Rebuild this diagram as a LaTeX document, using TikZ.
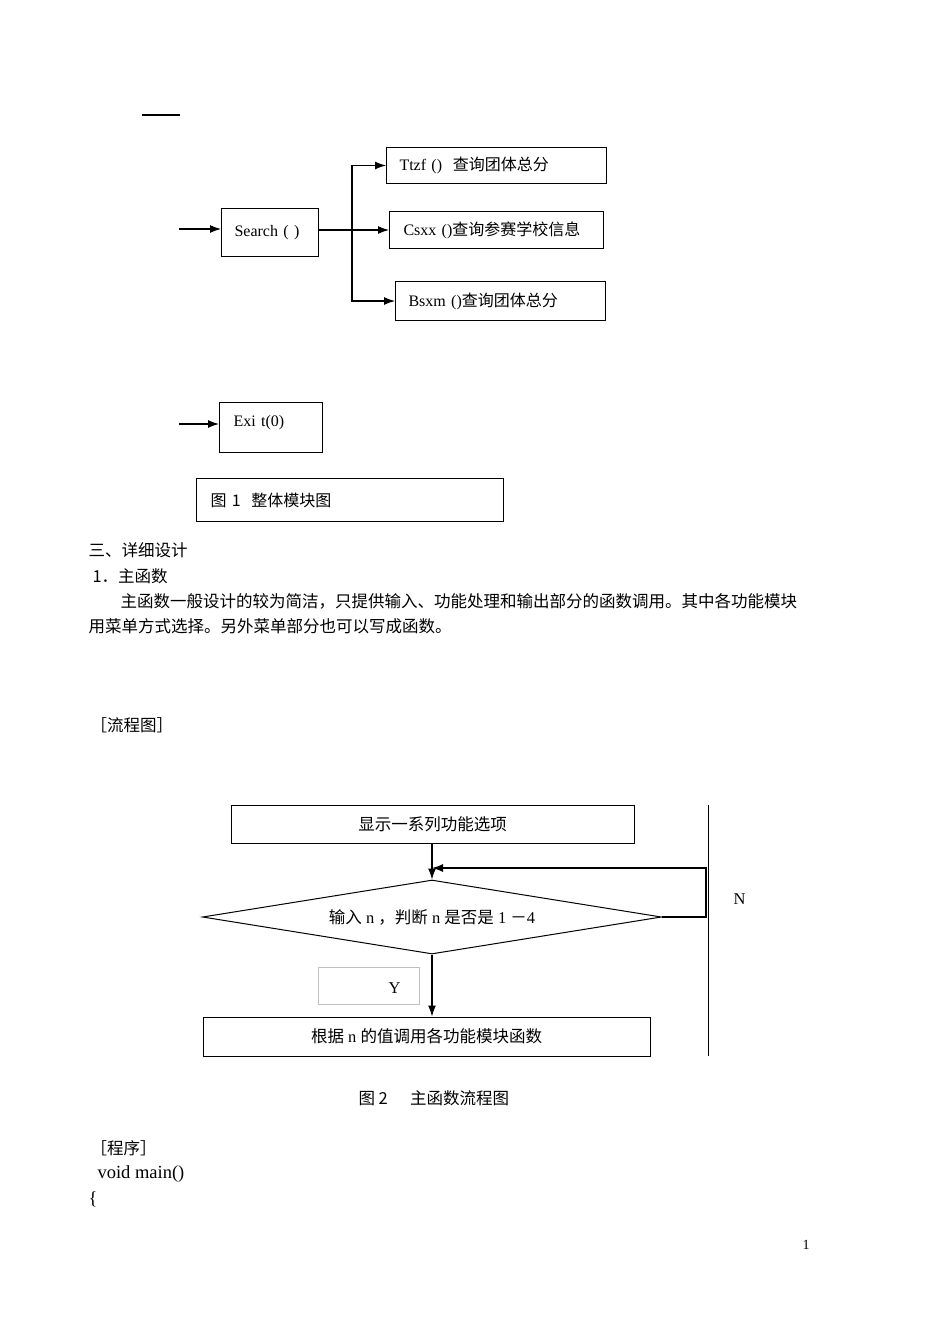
\documentclass[tikz,border=0pt]{standalone}
\usepackage{fontspec}
\setmainfont{Liberation Serif}
\newfontfamily\cjk{Noto Sans CJK SC}
\newcommand{\zw}[1]{{\cjk #1}}
\usetikzlibrary{arrows.meta,shapes.geometric}

\begin{document}
\begin{tikzpicture}[x=1pt,y=-1pt,>={Latex[length=11pt,width=8pt]},line width=1.1pt,
		modbox/.style={draw,line width=1pt,anchor=north west,align=left,inner ysep=0pt,font=\fontsize{16}{19}\selectfont},
		flowbox/.style={draw,line width=1pt,inner sep=0pt,font=\fontsize{16.5}{19}\selectfont},
		plain/.style={anchor=base west,inner sep=0pt,font=\fontsize{16.5}{20}\selectfont}]
		\useasboundingbox (0,0) rectangle (950,1344);
		\fill[white] (0,0) rectangle (950,1344);
		\draw[line width=2pt] (142,115) -- (180,115);
		% figure 1: modules
		\node[modbox,inner xsep=13pt,text width=71pt,minimum height=48pt] (search) at (221,208) {Search ( )};
		\node[modbox,inner xsep=13pt,text width=194pt,minimum height=36pt] (ttzf) at (386,147) {Ttzf ()\ \ \zw{查询团体总分}};
		\node[modbox,inner xsep=14pt,text width=186pt,minimum height=37pt] (csxx) at (389,211) {Csxx ()\zw{查询参赛学校信息}};
		\node[modbox,inner xsep=13pt,text width=184pt,minimum height=39pt] (bsxm) at (395,281) {Bsxm ()\zw{查询团体总分}};
		\node[modbox,inner xsep=14pt,text width=75pt,minimum height=50pt,text depth=14pt] (exit) at (219,402) {Exi t(0)};
		\node[modbox,inner xsep=14pt,text width=279pt,minimum height=43pt] (fig1) at (196,478) {\zw{图 1\ \ 整体模块图}};
		\coordinate (in1) at (179,229);
		\coordinate (in2) at (179,424);
		\coordinate (fork) at (352,230);
		\draw[->] (in1) -- (in1 -| search.west);
		\draw (search.east |- fork) -- (fork);
		\draw[->] (fork) -- (fork -| csxx.west);
		\draw[->] (fork) |- (ttzf.west);
		\draw[->] (fork) |- (bsxm.west);
		\draw[->] (in2) -- (in2 -| exit.west);
		% text
		\node[plain] (h3) at (88,556) {\zw{三、详细设计}};
		\node[plain] (h31) at (92,582) {\zw{1．主函数}};
		\node[plain] (par1) at (120,607) {\zw{主函数一般设计的较为简洁，只提供输入、功能处理和输出部分的函数调用。其中各功能模块}};
		\node[plain] (par2) at (88,632) {\zw{用菜单方式选择。另外菜单部分也可以写成函数。}};
		\node[plain] (lct) at (90,731) {\zw{［流程图］}};
		% figure 2: main flow
		\node[flowbox,minimum width=403pt,minimum height=38pt] (show) at (432.5,824) {\zw{显示一系列功能选项}};
		\node[diamond,draw,line width=1pt,shape aspect=6.2,minimum width=459pt,minimum height=74pt,inner sep=1pt,font=\fontsize{16.5}{19}\selectfont] (judge) at (432,917) {\zw{输入}~n~\zw{，判断}~n~\zw{是否是}~1~\zw{－}4};
		\node[flowbox,minimum width=447pt,minimum height=39pt] (call) at (426.5,1036.5) {\zw{根据}~n~\zw{的值调用各功能模块函数}};
		\node[draw=black!25,line width=0.7pt,anchor=north west,minimum width=101pt,minimum height=37pt,inner sep=0pt] (ybox) at (318,967) {};
		\node[plain] (ylab) at (388,993) {Y};
		\node[plain] (nlab) at (733,904) {N};
		\coordinate (back) at (706,868);
		\coordinate (sepa) at (708,805);
		\coordinate (sepb) at (708,1056);
		\draw[->] (show.south -| judge.north) -- (judge.north);
		\draw[->] (judge.east) -| (back) -- (judge.north |- back);
		\draw[->] (judge.south) -- (judge.south |- call.north);
		\draw[line width=0.8pt] (sepa) -- (sepb);
		\node[plain] (cap2) at (358,1104) {\zw{图 2\ \ \ \ \ \ 主函数流程图}};
		% program
		\node[plain] (cx) at (90,1154) {\zw{［程序］}};
		\node[plain,font=\fontsize{18.5}{22}\selectfont] (vm) at (97,1178) {void main()};
		\node[plain,font=\fontsize{18.5}{22}\selectfont] (lb) at (88,1204) {\{};
		\node[plain,font=\fontsize{14}{16}\selectfont] (pg) at (802,1249) {1};
\end{tikzpicture}
\end{document}
